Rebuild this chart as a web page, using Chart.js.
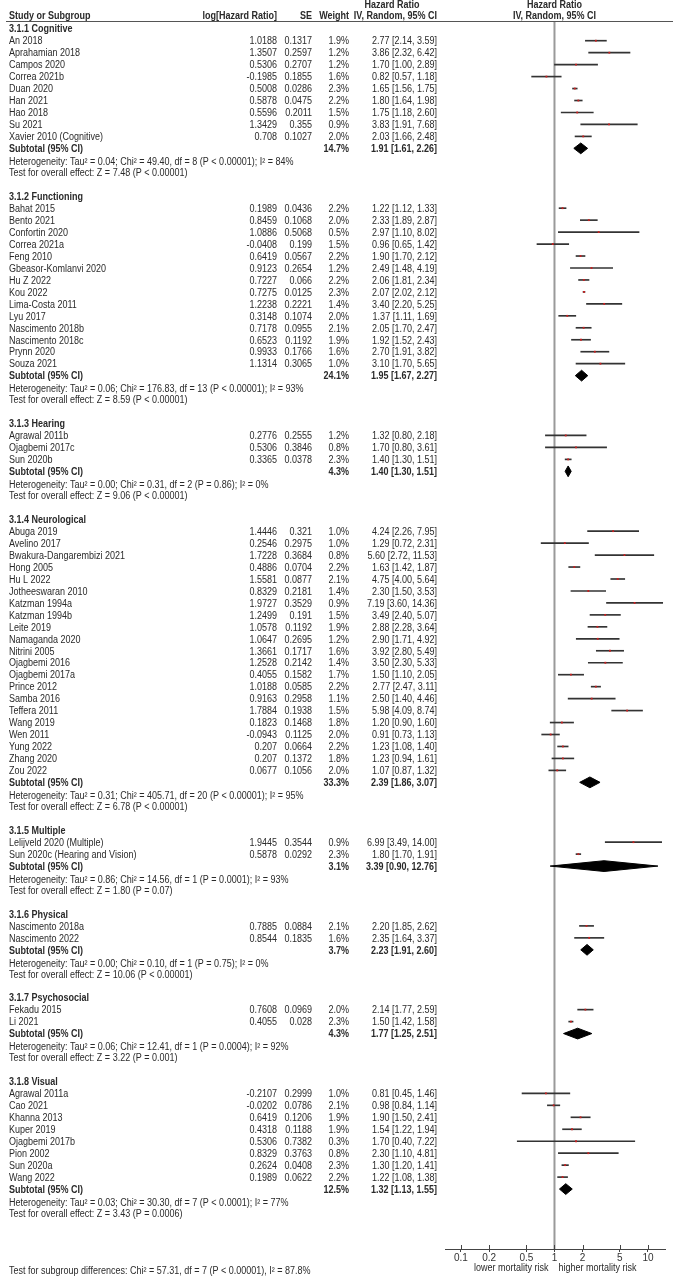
<!DOCTYPE html>
<html>
<head>
<meta charset="utf-8">
<script src="https://cdn.jsdelivr.net/npm/chart.js@4.4.0/dist/chart.umd.min.js"></script>
<style>
  html, body { margin: 0; padding: 0; background: #fff; }
  #forest { display: block; }
</style>
</head>
<body>
<canvas id="forest" width="675" height="1280"></canvas>
<script>
// subgroups
const groupNames = ['3.1.1 Cognitive', '3.1.2 Functioning', '3.1.3 Hearing', '3.1.4 Neurological',
  '3.1.5 Multiple', '3.1.6 Physical', '3.1.7 Psychosocial', '3.1.8 Visual'];
const subWeight = [14.7, 24.1, 4.3, 33.3, 3.1, 3.7, 4.3, 12.5];
const subHR = [1.91, 1.95, 1.40, 2.39, 3.39, 2.23, 1.77, 1.32];
const subLow = [1.61, 1.67, 1.30, 1.86, 0.90, 1.91, 1.25, 1.13];
const subHigh = [2.26, 2.27, 1.51, 3.07, 12.76, 2.60, 2.51, 1.55];
const hetText = [
  'Heterogeneity: Tau² = 0.04; Chi² = 49.40, df = 8 (P < 0.00001); I² = 84%',
  'Heterogeneity: Tau² = 0.06; Chi² = 176.83, df = 13 (P < 0.00001); I² = 93%',
  'Heterogeneity: Tau² = 0.00; Chi² = 0.31, df = 2 (P = 0.86); I² = 0%',
  'Heterogeneity: Tau² = 0.31; Chi² = 405.71, df = 20 (P < 0.00001); I² = 95%',
  'Heterogeneity: Tau² = 0.86; Chi² = 14.56, df = 1 (P = 0.0001); I² = 93%',
  'Heterogeneity: Tau² = 0.00; Chi² = 0.10, df = 1 (P = 0.75); I² = 0%',
  'Heterogeneity: Tau² = 0.06; Chi² = 12.41, df = 1 (P = 0.0004); I² = 92%',
  'Heterogeneity: Tau² = 0.03; Chi² = 30.30, df = 7 (P < 0.0001); I² = 77%'
];
const effectText = [
  'Test for overall effect: Z = 7.48 (P < 0.00001)',
  'Test for overall effect: Z = 8.59 (P < 0.00001)',
  'Test for overall effect: Z = 9.06 (P < 0.00001)',
  'Test for overall effect: Z = 6.78 (P < 0.00001)',
  'Test for overall effect: Z = 1.80 (P = 0.07)',
  'Test for overall effect: Z = 10.06 (P < 0.00001)',
  'Test for overall effect: Z = 3.22 (P = 0.001)',
  'Test for overall effect: Z = 3.43 (P = 0.0006)'
];
const subgroupTest = 'Test for subgroup differences: Chi² = 57.31, df = 7 (P < 0.00001), I² = 87.8%';

// studies
const studyNames = [
  'An 2018', 'Aprahamian 2018', 'Campos 2020', 'Correa 2021b', 'Duan 2020', 'Han 2021', 'Hao 2018', 'Su 2021', 'Xavier 2010 (Cognitive)',
  'Bahat 2015', 'Bento 2021', 'Confortin 2020', 'Correa 2021a', 'Feng 2010', 'Gbeasor-Komlanvi 2020', 'Hu Z 2022', 'Kou 2022',
  'Lima-Costa 2011', 'Lyu 2017', 'Nascimento 2018b', 'Nascimento 2018c', 'Prynn 2020', 'Souza 2021',
  'Agrawal 2011b', 'Ojagbemi 2017c', 'Sun 2020b',
  'Abuga 2019', 'Avelino 2017', 'Bwakura-Dangarembizi 2021', 'Hong 2005', 'Hu L 2022', 'Jotheeswaran 2010', 'Katzman 1994a',
  'Katzman 1994b', 'Leite 2019', 'Namaganda 2020', 'Nitrini 2005', 'Ojagbemi 2016', 'Ojagbemi 2017a', 'Prince 2012', 'Samba 2016',
  'Teffera 2011', 'Wang 2019', 'Wen 2011', 'Yung 2022', 'Zhang 2020', 'Zou 2022',
  'Lelijveld 2020 (Multiple)', 'Sun 2020c (Hearing and Vision)',
  'Nascimento 2018a', 'Nascimento 2022',
  'Fekadu 2015', 'Li 2021',
  'Agrawal 2011a', 'Cao 2021', 'Khanna 2013', 'Kuper 2019', 'Ojagbemi 2017b', 'Pion 2002', 'Sun 2020a', 'Wang 2022'
];
const studyGroup = [
  0, 0, 0, 0, 0, 0, 0, 0, 0,
  1, 1, 1, 1, 1, 1, 1, 1, 1, 1, 1, 1, 1, 1,
  2, 2, 2,
  3, 3, 3, 3, 3, 3, 3, 3, 3, 3, 3, 3, 3, 3, 3, 3, 3, 3, 3, 3, 3,
  4, 4,
  5, 5,
  6, 6,
  7, 7, 7, 7, 7, 7, 7, 7
];
const logHR = [
  1.0188, 1.3507, 0.5306, -0.1985, 0.5008, 0.5878, 0.5596, 1.3429, 0.708,
  0.1989, 0.8459, 1.0886, -0.0408, 0.6419, 0.9123, 0.7227, 0.7275, 1.2238, 0.3148, 0.7178, 0.6523, 0.9933, 1.1314,
  0.2776, 0.5306, 0.3365,
  1.4446, 0.2546, 1.7228, 0.4886, 1.5581, 0.8329, 1.9727, 1.2499, 1.0578, 1.0647, 1.3661, 1.2528, 0.4055, 1.0188,
  0.9163, 1.7884, 0.1823, -0.0943, 0.207, 0.207, 0.0677,
  1.9445, 0.5878,
  0.7885, 0.8544,
  0.7608, 0.4055,
  -0.2107, -0.0202, 0.6419, 0.4318, 0.5306, 0.8329, 0.2624, 0.1989
];
const seVals = [
  0.1317, 0.2597, 0.2707, 0.1855, 0.0286, 0.0475, 0.2011, 0.355, 0.1027,
  0.0436, 0.1068, 0.5068, 0.199, 0.0567, 0.2654, 0.066, 0.0125, 0.2221, 0.1074, 0.0955, 0.1192, 0.1766, 0.3065,
  0.2555, 0.3846, 0.0378,
  0.321, 0.2975, 0.3684, 0.0704, 0.0877, 0.2181, 0.3529, 0.191, 0.1192, 0.2695, 0.1717, 0.2142, 0.1582, 0.0585,
  0.2958, 0.1938, 0.1468, 0.1125, 0.0664, 0.1372, 0.1056,
  0.3544, 0.0292,
  0.0884, 0.1835,
  0.0969, 0.028,
  0.2999, 0.0786, 0.1206, 0.1188, 0.7382, 0.3763, 0.0408, 0.0622
];
const weightPct = [
  1.9, 1.2, 1.2, 1.6, 2.3, 2.2, 1.5, 0.9, 2.0,
  2.2, 2.0, 0.5, 1.5, 2.2, 1.2, 2.2, 2.3, 1.4, 2.0, 2.1, 1.9, 1.6, 1.0,
  1.2, 0.8, 2.3,
  1.0, 1.0, 0.8, 2.2, 2.1, 1.4, 0.9, 1.5, 1.9, 1.2, 1.6, 1.4, 1.7, 2.2, 1.1, 1.5, 1.8, 2.0, 2.2, 1.8, 2.0,
  0.9, 2.3,
  2.1, 1.6,
  2.0, 2.3,
  1.0, 2.1, 1.9, 1.9, 0.3, 0.8, 2.3, 2.2
];
const hrVals = [
  2.77, 3.86, 1.70, 0.82, 1.65, 1.80, 1.75, 3.83, 2.03,
  1.22, 2.33, 2.97, 0.96, 1.90, 2.49, 2.06, 2.07, 3.40, 1.37, 2.05, 1.92, 2.70, 3.10,
  1.32, 1.70, 1.40,
  4.24, 1.29, 5.60, 1.63, 4.75, 2.30, 7.19, 3.49, 2.88, 2.90, 3.92, 3.50, 1.50, 2.77, 2.50, 5.98, 1.20, 0.91, 1.23, 1.23, 1.07,
  6.99, 1.80,
  2.20, 2.35,
  2.14, 1.50,
  0.81, 0.98, 1.90, 1.54, 1.70, 2.30, 1.30, 1.22
];
const ciLow = [
  2.14, 2.32, 1.00, 0.57, 1.56, 1.64, 1.18, 1.91, 1.66,
  1.12, 1.89, 1.10, 0.65, 1.70, 1.48, 1.81, 2.02, 2.20, 1.11, 1.70, 1.52, 1.91, 1.70,
  0.80, 0.80, 1.30,
  2.26, 0.72, 2.72, 1.42, 4.00, 1.50, 3.60, 2.40, 2.28, 1.71, 2.80, 2.30, 1.10, 2.47, 1.40, 4.09, 0.90, 0.73, 1.08, 0.94, 0.87,
  3.49, 1.70,
  1.85, 1.64,
  1.77, 1.42,
  0.45, 0.84, 1.50, 1.22, 0.40, 1.10, 1.20, 1.08
];
const ciHigh = [
  3.59, 6.42, 2.89, 1.18, 1.75, 1.98, 2.60, 7.68, 2.48,
  1.33, 2.87, 8.02, 1.42, 2.12, 4.19, 2.34, 2.12, 5.25, 1.69, 2.47, 2.43, 3.82, 5.65,
  2.18, 3.61, 1.51,
  7.95, 2.31, 11.53, 1.87, 5.64, 3.53, 14.36, 5.07, 3.64, 4.92, 5.49, 5.33, 2.05, 3.11, 4.46, 8.74, 1.60, 1.13, 1.40, 1.61, 1.32,
  14.00, 1.91,
  2.62, 3.37,
  2.59, 1.58,
  1.46, 1.14, 2.41, 1.94, 7.22, 4.81, 1.41, 1.38
];

// axis
const tickValues = [0.1, 0.2, 0.5, 1, 2, 5, 10];
const tickLabels = ['0.1', '0.2', '0.5', '1', '2', '5', '10'];

const FONT = '"Liberation Sans", Arial, sans-serif';
const FONT_PX = 10;
const SX = 0.9; // reference text is slightly condensed
const TEXT_COLOR = '#2a2a2a';

// lay out rows: header, studies, subtotal, heterogeneity, effect, blank
const rows = [];
let r = 0;
groupNames.forEach((g, gi) => {
  rows.push({ kind: 'group', row: r++, gi });
  studyNames.forEach((s, si) => {
    if (studyGroup[si] === gi) rows.push({ kind: 'study', row: r++, si });
  });
  rows.push({ kind: 'subtotal', row: r++, gi });
  rows.push({ kind: 'het', row: r++, gi });
  rows.push({ kind: 'effect', row: r++, gi });
  r++;
});
const studyRow = {};
const subRow = {};
rows.forEach(x => {
  if (x.kind === 'study') studyRow[x.si] = x.row;
  if (x.kind === 'subtotal') subRow[x.gi] = x.row;
});

function drawText(ctx, s, x, y, align, bold, color) {
  ctx.save();
  ctx.font = (bold ? 'bold ' : '') + FONT_PX + 'px ' + FONT;
  ctx.textBaseline = 'middle';
  ctx.textAlign = align;
  ctx.fillStyle = color || TEXT_COLOR;
  ctx.translate(x, y);
  ctx.scale(SX, 1);
  ctx.fillText(s, 0, 0);
  ctx.restore();
}

function fmtCI(h, lo, hi) {
  return h.toFixed(2) + ' [' + lo.toFixed(2) + ', ' + hi.toFixed(2) + ']';
}

const forestText = {
  id: 'forestText',
  beforeDatasetsDraw(chart) {
    const { ctx, chartArea, scales } = chart;
    const x1 = scales.x.getPixelForValue(1);
    // line of no effect
    ctx.save();
    ctx.strokeStyle = '#9a9a9a';
    ctx.lineWidth = 2;
    ctx.beginPath();
    ctx.moveTo(x1, chartArea.top);
    ctx.lineTo(x1, chartArea.bottom);
    ctx.stroke();
    ctx.restore();
  },
  afterDraw(chart) {
    const { ctx, chartArea, scales } = chart;
    const y = scales.y;
    const xs = scales.x;
    const x1 = xs.getPixelForValue(1);

    // column headers
    drawText(ctx, 'Hazard Ratio', 392, 5, 'center', true);
    drawText(ctx, 'Hazard Ratio', x1, 5, 'center', true);
    drawText(ctx, 'Study or Subgroup', 9, 16.5, 'left', true);
    drawText(ctx, 'log[Hazard Ratio]', 277, 16.5, 'right', true);
    drawText(ctx, 'SE', 312, 16.5, 'right', true);
    drawText(ctx, 'Weight', 349, 16.5, 'right', true);
    drawText(ctx, 'IV, Random, 95% CI', 437, 16.5, 'right', true);
    drawText(ctx, 'IV, Random, 95% CI', x1, 16.5, 'center', true);

    ctx.save();
    ctx.strokeStyle = '#555';
    ctx.lineWidth = 1;
    ctx.beginPath();
    ctx.moveTo(6, Math.round(chartArea.top) - 0.5);
    ctx.lineTo(673, Math.round(chartArea.top) - 0.5);
    ctx.stroke();
    ctx.restore();

    rows.forEach(item => {
      const py = y.getPixelForValue(item.row) + 1;
      if (item.kind === 'group') {
        drawText(ctx, groupNames[item.gi], 9, py, 'left', true);
      } else if (item.kind === 'study') {
        const i = item.si;
        drawText(ctx, studyNames[i], 9, py, 'left', false);
        drawText(ctx, String(logHR[i]), 277, py, 'right', false);
        drawText(ctx, String(seVals[i]), 312, py, 'right', false);
        drawText(ctx, weightPct[i].toFixed(1) + '%', 349, py, 'right', false);
        drawText(ctx, fmtCI(hrVals[i], ciLow[i], ciHigh[i]), 437, py, 'right', false);
      } else if (item.kind === 'subtotal') {
        const g = item.gi;
        drawText(ctx, 'Subtotal (95% CI)', 9, py, 'left', true);
        drawText(ctx, subWeight[g].toFixed(1) + '%', 349, py, 'right', true);
        drawText(ctx, fmtCI(subHR[g], subLow[g], subHigh[g]), 437, py, 'right', true);
      } else if (item.kind === 'het') {
        drawText(ctx, hetText[item.gi], 9, py + 1, 'left', false);
      } else if (item.kind === 'effect') {
        drawText(ctx, effectText[item.gi], 9, py, 'left', false);
      }
    });

    // small tick marks above the axis line
    ctx.save();
    ctx.strokeStyle = '#444';
    ctx.lineWidth = 1;
    tickValues.forEach(v => {
      const px = Math.round(xs.getPixelForValue(v)) + 0.5;
      ctx.beginPath();
      ctx.moveTo(px, chartArea.bottom - 4);
      ctx.lineTo(px, chartArea.bottom);
      ctx.stroke();
    });
    ctx.restore();

    drawText(ctx, 'lower mortality risk', x1 - 6, chartArea.bottom + 19, 'right', false);
    drawText(ctx, 'higher mortality risk', x1 + 4, chartArea.bottom + 19, 'left', false);
    drawText(ctx, subgroupTest, 9, chartArea.bottom + 22, 'left', false);
  }
};

const studyIdx = studyNames.map((_, i) => i);

const ciData = studyIdx.map(i => ({ x: [ciLow[i], ciHigh[i]], y: studyRow[i] }));
const pointData = studyIdx.map(i => ({ x: hrVals[i], y: studyRow[i] }));

const DIAMOND_HALF = 0.45;
const diamondSets = groupNames.map((g, gi) => ({
  type: 'line',
  data: [
    { x: subLow[gi], y: subRow[gi] },
    { x: subHR[gi], y: subRow[gi] - DIAMOND_HALF },
    { x: subHigh[gi], y: subRow[gi] },
    { x: subHR[gi], y: subRow[gi] + DIAMOND_HALF },
    { x: subLow[gi], y: subRow[gi] }
  ],
  borderColor: '#000',
  backgroundColor: '#000',
  borderWidth: 1,
  pointRadius: 0,
  tension: 0,
  fill: 'shape',
  order: 3
}));

// rows map onto pixels: row 0 sits ~28.7px down, rows are ~11.96px apart
const ROW_MIN = -0.5635;
const ROW_MAX = 102.01;

new Chart(document.getElementById('forest'), {
  type: 'scatter',
  data: {
    datasets: [
      {
        type: 'bar',
        indexAxis: 'y',
        data: ciData,
        backgroundColor: '#333333',
        barThickness: 1,
        order: 2
      },
      {
        type: 'scatter',
        data: pointData,
        pointStyle: 'rect',
        pointRadius: 1.3,
        backgroundColor: '#c81e1e',
        borderWidth: 0,
        order: 1
      },
      ...diamondSets
    ]
  },
  options: {
    responsive: false,
    animation: false,
    events: [],
    layout: { padding: { left: 445, right: 10, top: 22, bottom: 0 } },
    scales: {
      x: {
        type: 'logarithmic',
        min: 0.0675,
        max: 15.2,
        offset: false,
        afterBuildTicks: scale => { scale.ticks = tickValues.map(v => ({ value: v })); },
        afterFit: scale => { scale.height = 31; },
        ticks: {
          autoSkip: false,
          maxRotation: 0,
          padding: 0,
          color: '#333',
          font: { family: FONT, size: 10 },
          callback: (v) => tickLabels[tickValues.indexOf(v)]
        },
        grid: { drawOnChartArea: false, drawTicks: true, tickLength: 3, color: '#444' },
        border: { display: true, color: '#444', width: 1 }
      },
      y: {
        type: 'linear',
        display: false,
        reverse: true,
        offset: false,
        min: ROW_MIN,
        max: ROW_MAX
      }
    },
    plugins: {
      legend: { display: false },
      tooltip: { enabled: false }
    }
  },
  plugins: [forestText]
});
</script>
</body>
</html>
